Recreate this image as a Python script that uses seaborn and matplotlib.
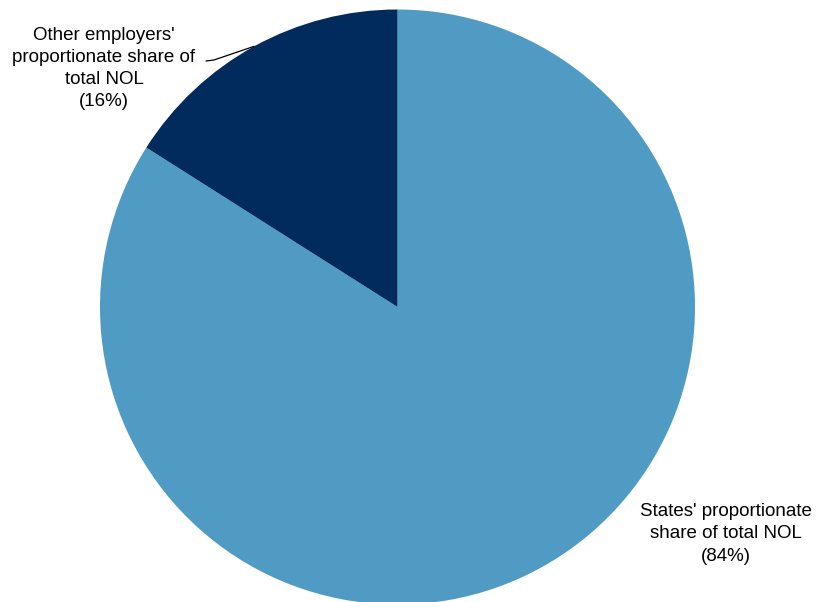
import numpy as np
import matplotlib
matplotlib.use("Agg")
import matplotlib.pyplot as plt
import seaborn as sns

# Shares of the total net OPEB liability
labels = ["States' proportionate\nshare of total NOL", "Other employers'\nproportionate share of\ntotal NOL"]
shares = [84, 16]
colors = ["#4F9BC3", "#012B5C"]

sns.set_theme(style="white")
plt.rcParams["font.family"] = ["Liberation Sans", "DejaVu Sans"]

W, H = 817, 602
fig = plt.figure(figsize=(W / 100, H / 100), dpi=100)
ax = fig.add_axes([0, 0, 1, 1])

cx, cy, r = 397.5, 295.0, 297.5
wedges, _ = ax.pie(shares, colors=colors, startangle=90, counterclock=False,
                   center=(cx, cy), radius=r,
                   wedgeprops=dict(linewidth=0))
ax.set_xlim(0, W)
ax.set_ylim(0, H)
ax.set_aspect("auto")
ax.axis("off")

txt = dict(ha="center", va="center", fontsize=13.5, color="black", linespacing=1.4)

# States label (lower right)
ax.text(726, H - 534, f"{labels[0]}\n({shares[0]}%)", **txt)

# Other employers label with leader line to the wedge edge
w = wedges[1]
mid = np.deg2rad((w.theta1 + w.theta2) / 2)
ex, ey = cx + r * np.cos(mid), cy + r * np.sin(mid)
ax.text(104, H - 68.5, f"{labels[1]}\n({shares[1]}%)", **txt)
ax.plot([206, 214, ex], [H - 61, H - 60, ey], color="black", lw=0.9)

fig.savefig("out.png", dpi=100)
